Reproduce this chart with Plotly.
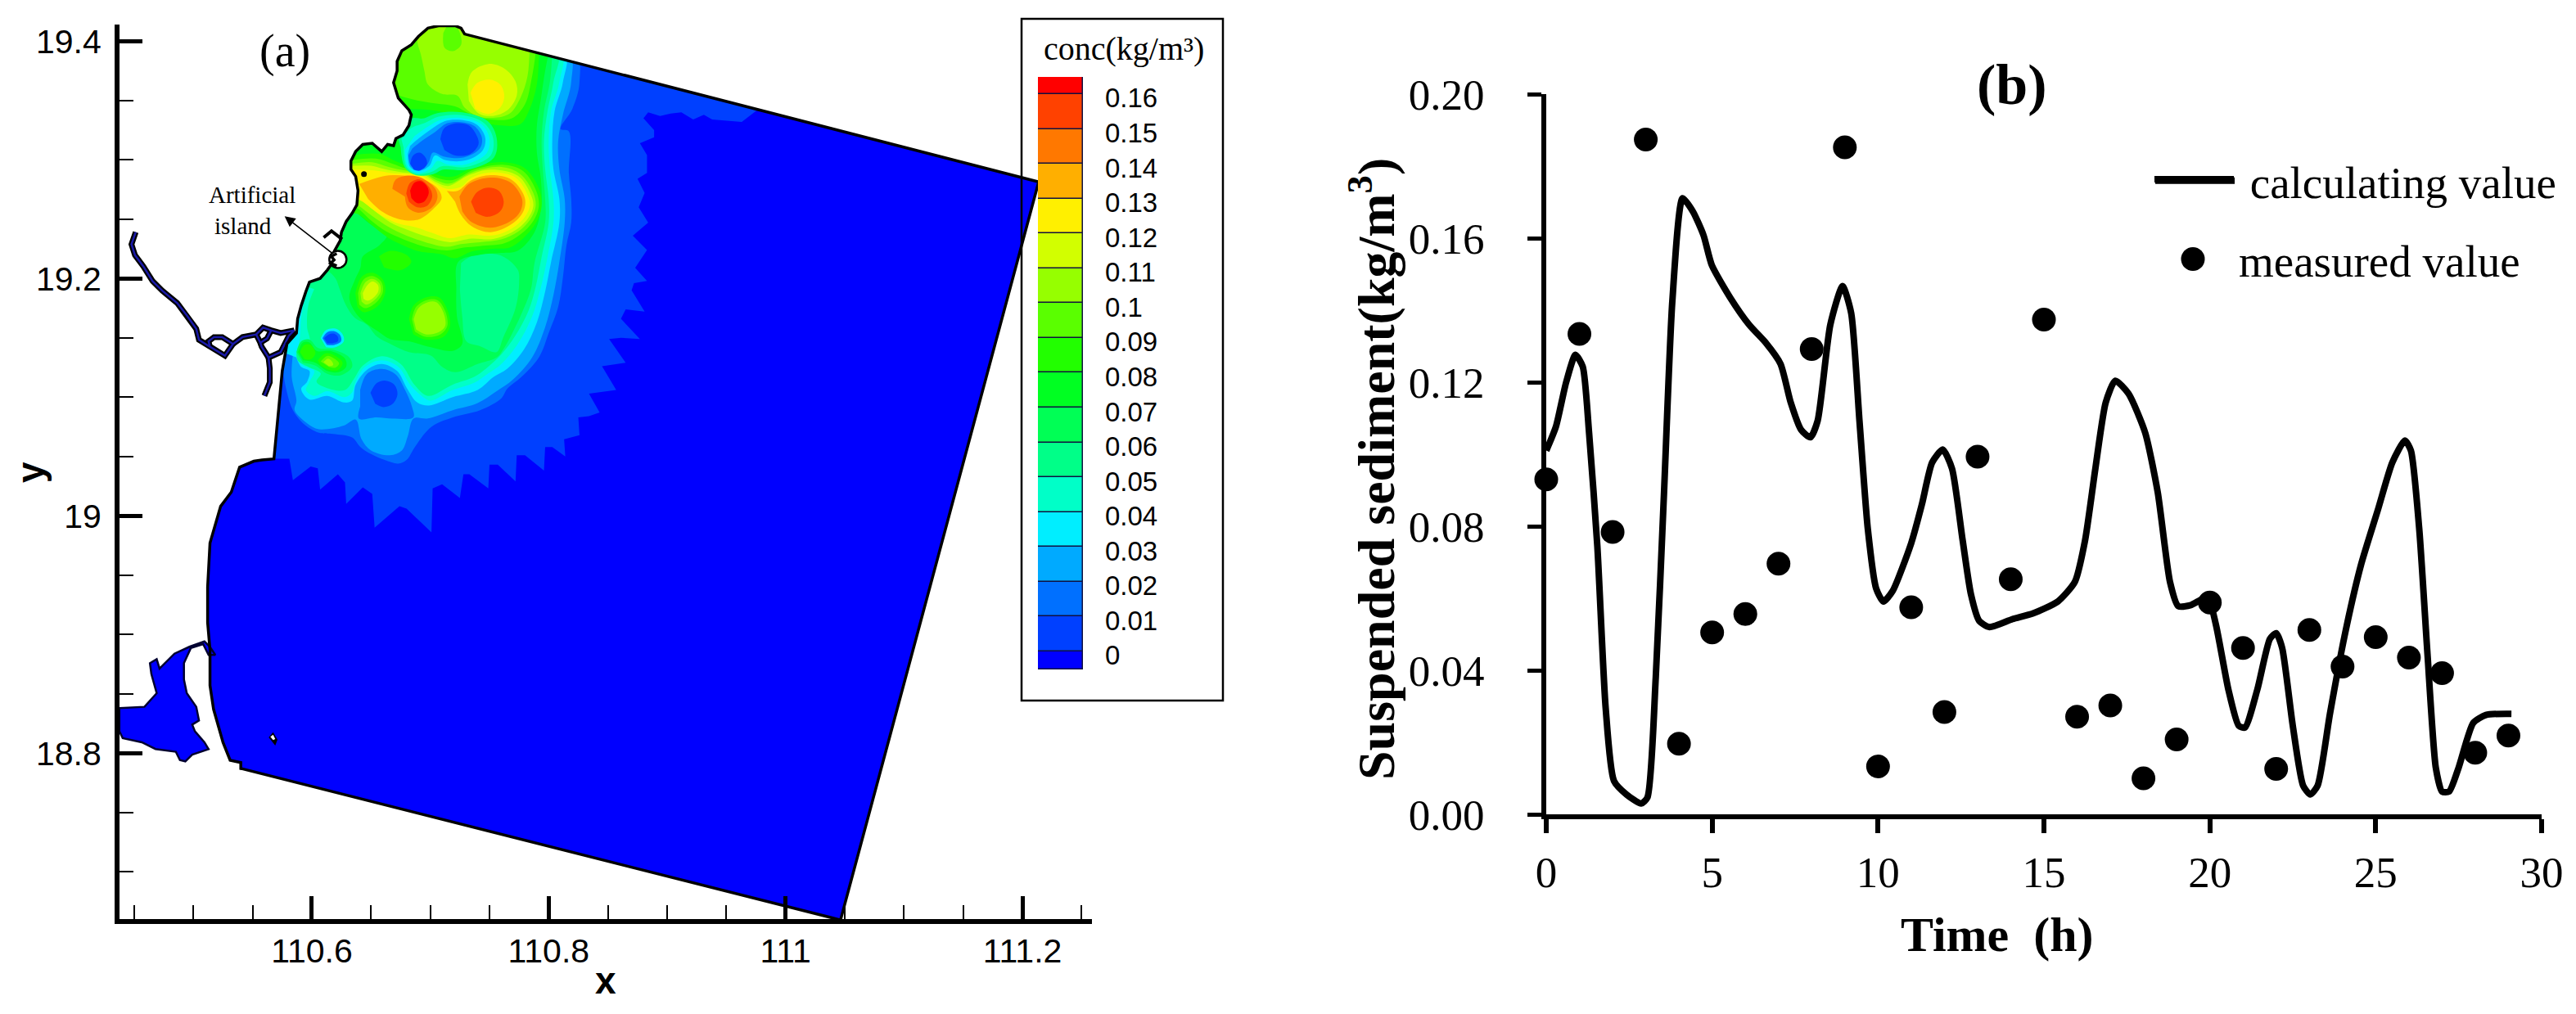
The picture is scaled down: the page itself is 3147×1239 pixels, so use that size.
import plotly.graph_objects as go

W, H = 3147, 1239

# panel (b) values
calc_time = [0, .29, .6, .88, 1.1, 1.29, 1.54, 1.79, 2.04, 2.42, 2.86, 3.05, 3.3, 3.55, 3.8, 4.11, 4.42, 4.74, 4.99,
             5.55, 6.12, 6.62, 7.06, 7.37, 7.68, 7.96, 8.18, 8.56, 8.93, 9.19, 9.44, 9.69, 9.94, 10.16, 10.44, 11.0,
             11.32, 11.63, 11.95, 12.23, 12.55, 12.8, 13.05, 13.36, 14.05, 14.67, 15.42, 15.93, 16.24, 16.55, 16.86,
             17.15, 17.55, 18.05, 18.43, 18.8, 19.05, 19.43, 19.93, 20.18, 20.56, 20.87, 21.06, 21.43, 21.81, 22.0,
             22.18, 22.5, 22.81, 23.03, 23.25, 23.62, 24.06, 24.56, 25.06, 25.5, 25.88, 26.06, 26.31, 26.56, 26.81,
             27.0, 27.21, 27.5, 27.94, 28.32, 29.09]
calc_value = [.101, .1076, .120, .1276, .1243, .106, .0744, .0296, .0093, .0055, .003, .0047, .0379, .0894, .1425,
              .1711, .1674, .1608, .1525, .1434, .1359, .1309, .1251, .1143, .1068, .1047, .1093, .1359, .1467, .1392,
              .1093, .0794, .0628, .0591, .062, .0753, .086, .0977, .1013, .096, .0761, .0611, .0537, .052, .0542,
              .0558, .0591, .0645, .0761, .096, .1143, .1204, .1168, .106, .0894, .0645, .0578, .0581, .0603, .0528,
              .0346, .0246, .0241, .0346, .0487, .0503, .0462, .0246, .008, .0055, .008, .0279, .0495, .0694, .0844,
              .0977, .1038, .101, .0794, .0445, .013, .0063, .0063, .013, .0254, .0276, .0279]
meas_time = list(range(30))
meas_value = [.093, .1334, .0784, .1874, .0196, .0505, .0556, .0696, .1292, .1852, .0133, .0575, .0284, .0993, .0653,
              .1374, .0271, .0302, .01, .0208, .0588, .0462, .0126, .0512, .041, .0492, .0435, .0392, .0171, .0219]

# panel (a) legend
conc_levels = [0, .01, .02, .03, .04, .05, .06, .07, .08, .09, .1, .11, .12, .13, .14, .15, .16]
conc_labels = ['0', '0.01', '0.02', '0.03', '0.04', '0.05', '0.06', '0.07', '0.08', '0.09', '0.1', '0.11', '0.12',
               '0.13', '0.14', '0.15', '0.16']
band_colors = ['#0000FF', '#0040FF', '#0070FF', '#00AAFF', '#00EEFF', '#00FFC8', '#00FF88', '#00FF55', '#00FF22',
               '#22FF00', '#5AFF00', '#96FF00', '#D2FF00', '#FFF000', '#FFAF00', '#FF7800', '#FF4100', '#FF0000']

# model outline, lon/lat
corner_ne = [111.2137, 19.2814]
corner_se = [111.0464, 18.6593]
corner_sw = [110.5406, 18.7869]
coast = [[110.729, 19.406], [110.726, 19.411], [110.721, 19.413], [110.707, 19.413], [110.698, 19.411],
         [110.690, 19.404], [110.684, 19.397], [110.676, 19.392], [110.672, 19.383], [110.672, 19.375],
         [110.669, 19.365], [110.673, 19.352], [110.682, 19.342], [110.684, 19.338], [110.682, 19.329],
         [110.677, 19.321], [110.671, 19.318], [110.669, 19.312], [110.664, 19.313], [110.659, 19.307],
         [110.654, 19.311], [110.651, 19.314], [110.643, 19.313], [110.637, 19.307], [110.633, 19.299],
         [110.633, 19.292], [110.637, 19.286], [110.639, 19.274], [110.638, 19.262], [110.634, 19.255],
         [110.629, 19.248], [110.625, 19.239], [110.624, 19.232], [110.619, 19.223], [110.618, 19.214],
         [110.613, 19.207], [110.607, 19.200], [110.598, 19.197], [110.595, 19.189], [110.591, 19.177],
         [110.588, 19.166], [110.587, 19.154], [110.579, 19.145], [110.575, 19.122], [110.572, 19.090],
         [110.5695, 19.064], [110.568, 19.048], [110.558, 19.047], [110.551, 19.046], [110.539, 19.041],
         [110.535, 19.030], [110.532, 19.020], [110.523, 19.008], [110.519, 18.995], [110.514, 18.977],
         [110.512, 18.940], [110.512, 18.910], [110.514, 18.887], [110.514, 18.857], [110.517, 18.837],
         [110.525, 18.809], [110.531, 18.794], [110.540, 18.792], [110.540, 18.787]]
bay = [[110.4375, 18.8378], [110.4587, 18.839], [110.469, 18.8505], [110.4645, 18.8666], [110.4633, 18.8758],
       [110.469, 18.8792], [110.4714, 18.8712], [110.484, 18.8838], [110.4967, 18.8896], [110.5093, 18.8942],
       [110.5139, 18.8896], [110.5185, 18.8827], [110.5128, 18.8827], [110.5082, 18.8919], [110.4978, 18.8885],
       [110.492, 18.8758], [110.492, 18.862], [110.4944, 18.8505], [110.5024, 18.839], [110.5047, 18.8275],
       [110.499, 18.824], [110.5013, 18.8183], [110.5093, 18.8091], [110.5128, 18.8033], [110.499, 18.7987],
       [110.4932, 18.793], [110.4886, 18.7941], [110.4852, 18.8011], [110.468, 18.8034], [110.4564, 18.8091],
       [110.4403, 18.8126], [110.4375, 18.8183]]
river = [[110.4513, 19.2391], [110.4477, 19.2288], [110.4507, 19.2196], [110.4576, 19.2104], [110.4656, 19.1977],
         [110.4737, 19.1897], [110.4863, 19.1793], [110.4944, 19.169], [110.5024, 19.1575], [110.5047, 19.1483],
         [110.5139, 19.1425], [110.5266, 19.1349], [110.5335, 19.1448], [110.5243, 19.1506], [110.5174, 19.1506],
         [110.5128, 19.1471], [110.5139, 19.1425], [None, None],
         [110.5335, 19.1448], [110.5415, 19.1506], [110.553, 19.1528], [110.5588, 19.1586], [110.5657, 19.1563],
         [110.5737, 19.154], [110.5852, 19.1563], [None, None],
         [110.553, 19.1528], [110.5565, 19.1459], [110.5622, 19.1494], [110.5657, 19.1563], [None, None],
         [110.5565, 19.1459], [110.5576, 19.1425], [110.5634, 19.1333], [110.5737, 19.1379], [110.5806, 19.1517],
         [110.5852, 19.1563], [None, None],
         [110.5634, 19.1333], [110.5645, 19.1241], [110.5645, 19.1126], [110.5599, 19.1011]]
hook = [[110.61, 19.2345], [110.6166, 19.24], [110.6256, 19.233]]
island_mark = [[110.621, 19.221], [110.6165, 19.2186], [110.6188, 19.2156], [110.6158, 19.2128], [110.621, 19.2106]]
islet_rim = [[110.5636, 18.8132], [110.5673, 18.8176], [110.571, 18.8114], [110.5691, 18.8063]]
islet_core = [[110.565, 18.8137], [110.5673, 18.8155], [110.5691, 18.8119], [110.5673, 18.811]]
artificial_island = [110.622, 19.216]
rock = [110.644, 19.288]
arrow_head = [110.577, 19.2524]
arrow_tail = [110.618, 19.2207]

# isolines of the concentration field, lon/lat
iso_00 = [[110.5695, 19.048], [110.581, 19.048], [110.584, 19.030], [110.599, 19.0415], [110.605, 19.040],
          [110.607, 19.022], [110.622, 19.035], [110.628, 19.028], [110.629, 19.010], [110.643, 19.024],
          [110.651, 19.0185], [110.653, 18.990], [110.674, 19.008], [110.680, 19.006], [110.701, 18.986],
          [110.702, 19.023], [110.710, 19.0265], [110.725, 19.015], [110.728, 19.035], [110.733, 19.035],
          [110.749, 19.023], [110.750, 19.043], [110.757, 19.043], [110.772, 19.029], [110.773, 19.051],
          [110.780, 19.051], [110.796, 19.038], [110.797, 19.058], [110.803, 19.058], [110.814, 19.050],
          [110.813, 19.0645], [110.826, 19.068], [110.825, 19.083], [110.834, 19.084], [110.843, 19.087],
          [110.834, 19.103], [110.857, 19.106], [110.845, 19.126], [110.865, 19.129], [110.851, 19.149],
          [110.861, 19.150], [110.877, 19.149], [110.861, 19.166], [110.865, 19.174], [110.881, 19.172],
          [110.870, 19.190], [110.872, 19.196], [110.883, 19.198], [110.873, 19.209], [110.883, 19.224],
          [110.871, 19.236], [110.884, 19.247], [110.876, 19.260], [110.881, 19.272], [110.875, 19.284],
          [110.883, 19.289], [110.883, 19.304], [110.877, 19.314], [110.889, 19.319], [110.889, 19.325],
          [110.880, 19.335], [110.884, 19.340], [110.894, 19.337], [110.903, 19.339], [110.912, 19.340],
          [110.922, 19.334], [110.931, 19.338], [110.938, 19.334], [110.963, 19.332], [110.976, 19.342],
          [110.976, 19.35], [110.72, 19.42], [110.60, 19.42], [110.55, 19.25], [110.56, 19.05]]
iso_01 = [[110.5775, 19.145], [110.576, 19.122], [110.579, 19.104], [110.584, 19.089], [110.5925, 19.078],
          [110.606, 19.070], [110.618, 19.069], [110.634, 19.066], [110.641, 19.058], [110.650, 19.052],
          [110.6615, 19.047], [110.673, 19.044], [110.680, 19.047], [110.687, 19.058], [110.701, 19.075],
          [110.719, 19.083], [110.742, 19.089], [110.760, 19.099], [110.765, 19.107], [110.777, 19.117],
          [110.792, 19.134], [110.800, 19.154], [110.808, 19.176], [110.812, 19.201], [110.815, 19.228],
          [110.819, 19.247], [110.819, 19.267], [110.817, 19.289], [110.817, 19.324], [110.810, 19.326],
          [110.820, 19.343], [110.826, 19.3655], [110.821, 19.395], [110.70, 19.42], [110.60, 19.42],
          [110.56, 19.25], [110.56, 19.145]]
iso_02 = [[110.584, 19.136], [110.583, 19.117], [110.587, 19.097], [110.5855, 19.089], [110.596, 19.078],
          [110.606, 19.073], [110.627, 19.076], [110.637, 19.081], [110.642, 19.0645], [110.650, 19.055],
          [110.666, 19.051], [110.676, 19.055], [110.681, 19.067], [110.686, 19.082], [110.698, 19.082],
          [110.719, 19.089], [110.740, 19.095], [110.756, 19.105], [110.770, 19.115], [110.786, 19.1335],
          [110.797, 19.159], [110.804, 19.186], [110.809, 19.214], [110.8135, 19.247], [110.8135, 19.267],
          [110.809, 19.292], [110.808, 19.316], [110.812, 19.338], [110.819, 19.3655], [110.816, 19.395],
          [110.70, 19.42], [110.60, 19.42], [110.56, 19.25], [110.56, 19.14]]
iso_03 = [[110.587, 19.1335], [110.591, 19.1255], [110.598, 19.122], [110.596, 19.113], [110.591, 19.107],
          [110.598, 19.098], [110.613, 19.101], [110.627, 19.0955], [110.634, 19.097], [110.637, 19.1105],
          [110.6465, 19.123], [110.659, 19.128], [110.672, 19.122], [110.680, 19.108], [110.689, 19.0955],
          [110.699, 19.093], [110.719, 19.100], [110.740, 19.106], [110.7535, 19.117], [110.765, 19.124],
          [110.779, 19.140], [110.790, 19.163], [110.797, 19.189], [110.802, 19.214], [110.809, 19.247],
          [110.809, 19.267], [110.804, 19.292], [110.803, 19.316], [110.805, 19.341], [110.812, 19.3655],
          [110.813, 19.395], [110.70, 19.42], [110.60, 19.42], [110.57, 19.25], [110.57, 19.14]]
iso_04 = [[110.594, 19.184], [110.591, 19.168], [110.590, 19.152], [110.589, 19.145], [110.587, 19.136],
          [110.5925, 19.127], [110.602, 19.122], [110.598, 19.113], [110.595, 19.106], [110.602, 19.101],
          [110.613, 19.105], [110.628, 19.100], [110.634, 19.104], [110.637, 19.113], [110.645, 19.1255],
          [110.659, 19.131], [110.673, 19.1255], [110.683, 19.1105], [110.694, 19.100], [110.7005, 19.097],
          [110.719, 19.106], [110.737, 19.112], [110.749, 19.120], [110.760, 19.128], [110.774, 19.145],
          [110.786, 19.168], [110.793, 19.191], [110.799, 19.218], [110.804, 19.247], [110.804, 19.267],
          [110.801, 19.292], [110.800, 19.316], [110.802, 19.341], [110.809, 19.3655], [110.81, 19.395],
          [110.70, 19.42], [110.62, 19.42], [110.59, 19.25], [110.585, 19.19]]
iso_05 = [[110.602, 19.191], [110.597, 19.177], [110.596, 19.159], [110.598, 19.147], [110.588, 19.140],
          [110.588, 19.131], [110.597, 19.1255], [110.6075, 19.120], [110.604, 19.113], [110.612, 19.108],
          [110.628, 19.106], [110.636, 19.116], [110.643, 19.1265], [110.659, 19.1345], [110.675, 19.128],
          [110.687, 19.110], [110.698, 19.101], [110.719, 19.1105], [110.737, 19.117], [110.747, 19.124],
          [110.760, 19.136], [110.772, 19.152], [110.783, 19.173], [110.789, 19.193], [110.794, 19.218],
          [110.800, 19.247], [110.800, 19.267], [110.797, 19.292], [110.796, 19.316], [110.799, 19.341],
          [110.804, 19.3655], [110.807, 19.395], [110.70, 19.42], [110.62, 19.42], [110.60, 19.25],
          [110.59, 19.195]]
iso_06 = [[110.803, 19.39], [110.801, 19.3655], [110.796, 19.341], [110.794, 19.316], [110.795, 19.292],
          [110.797, 19.267], [110.797, 19.247], [110.788, 19.213], [110.785, 19.191], [110.776, 19.168],
          [110.7615, 19.140], [110.756, 19.1335], [110.740, 19.128], [110.721, 19.121], [110.710, 19.1255],
          [110.7005, 19.135], [110.682, 19.138], [110.668, 19.144], [110.655, 19.151], [110.6465, 19.161],
          [110.636, 19.167], [110.629, 19.177], [110.6235, 19.191], [110.620, 19.200], [110.613, 19.207],
          [110.604, 19.214], [110.60, 19.25], [110.60, 19.42], [110.80, 19.42]]
iso_06_south = [[110.587, 19.138], [110.591, 19.147], [110.598, 19.1485], [110.605, 19.1416], [110.618, 19.140],
                [110.6316, 19.1335], [110.634, 19.1255], [110.6247, 19.1185], [110.613, 19.1197], [110.603, 19.1266],
                [110.5925, 19.129]]
lobe_05 = [[110.726, 19.213], [110.733, 19.218], [110.749, 19.221], [110.7625, 19.218], [110.774, 19.207],
           [110.775, 19.196], [110.772, 19.175], [110.7615, 19.150], [110.756, 19.138], [110.742, 19.143],
           [110.7305, 19.147], [110.727, 19.168], [110.725, 19.191]]
iso_07 = [[110.800, 19.390], [110.797, 19.375], [110.7935, 19.352], [110.790, 19.329], [110.790, 19.306],
          [110.7935, 19.283], [110.7935, 19.260], [110.788, 19.239], [110.774, 19.2235], [110.760, 19.2215],
          [110.742, 19.220], [110.7236, 19.214], [110.722, 19.191], [110.7225, 19.168], [110.727, 19.145],
          [110.719, 19.139], [110.7005, 19.142], [110.682, 19.147], [110.666, 19.149], [110.655, 19.156],
          [110.643, 19.1645], [110.636, 19.1726], [110.6316, 19.184], [110.636, 19.198], [110.641, 19.209],
          [110.643, 19.2186], [110.657, 19.228], [110.6636, 19.237], [110.652, 19.244], [110.6406, 19.253],
          [110.634, 19.260], [110.62, 19.27], [110.62, 19.42], [110.80, 19.42]]
iso_07_south = [[110.5884, 19.138], [110.5925, 19.146], [110.598, 19.146], [110.604, 19.139], [110.6167, 19.1386],
                [110.628, 19.1324], [110.629, 19.1255], [110.6224, 19.121], [110.613, 19.122], [110.603, 19.129],
                [110.5925, 19.131]]
iso_08_north = [[110.682, 19.343], [110.700, 19.342], [110.721, 19.338], [110.7395, 19.3325], [110.760, 19.329],
                [110.776, 19.330], [110.784, 19.343], [110.790, 19.3635], [110.792, 19.389], [110.795, 19.42],
                [110.64, 19.42], [110.64, 19.36]]
iso_09_north = [[110.674, 19.354], [110.689, 19.350], [110.705, 19.3474], [110.721, 19.345], [110.733, 19.339],
                [110.751, 19.334], [110.769, 19.335], [110.780, 19.347], [110.7855, 19.368], [110.789, 19.391],
                [110.79, 19.42], [110.64, 19.42], [110.64, 19.36]]
iso_10_north = [[110.69, 19.42], [110.689, 19.400], [110.692, 19.389], [110.695, 19.375], [110.698, 19.3635],
                [110.710, 19.3555], [110.723, 19.354], [110.729, 19.344], [110.7395, 19.337], [110.753, 19.3354],
                [110.767, 19.339], [110.776, 19.352], [110.782, 19.370], [110.784, 19.393], [110.786, 19.42]]
patch_09_north = [[110.711, 19.407], [110.712, 19.3945], [110.719, 19.3916], [110.726, 19.397], [110.725, 19.407],
                  [110.721, 19.413], [110.714, 19.413]]
iso_11_north = [[110.7315, 19.3635], [110.735, 19.374], [110.749, 19.3808], [110.7625, 19.377], [110.772, 19.366],
                [110.773, 19.354], [110.765, 19.3417], [110.753, 19.337], [110.741, 19.339], [110.7326, 19.3497]]
iso_12_north = [[110.734, 19.3566], [110.7395, 19.3647], [110.750, 19.3676], [110.759, 19.3635], [110.7625, 19.354],
                [110.759, 19.344], [110.7487, 19.3387], [110.738, 19.343]]
iso_08_mid = [[110.634, 19.3037], [110.657, 19.305], [110.6705, 19.299], [110.682, 19.2945], [110.6935, 19.2927],
              [110.705, 19.2876], [110.719, 19.2858], [110.737, 19.294], [110.7625, 19.298], [110.7798, 19.293],
              [110.7917, 19.276], [110.794, 19.261], [110.7896, 19.2474], [110.7786, 19.234], [110.767, 19.226],
              [110.753, 19.225], [110.735, 19.2227], [110.721, 19.217], [110.7096, 19.2204], [110.691, 19.2227],
              [110.6786, 19.2273], [110.6648, 19.234], [110.651, 19.2446], [110.6395, 19.254], [110.629, 19.257],
              [110.629, 19.3037]]
iso_09_mid = [[110.635, 19.300], [110.654, 19.301], [110.668, 19.2968], [110.6797, 19.2927], [110.6935, 19.291],
              [110.705, 19.285], [110.719, 19.283], [110.737, 19.2917], [110.7625, 19.2957], [110.7786, 19.2904],
              [110.7894, 19.274], [110.7917, 19.261], [110.787, 19.2485], [110.776, 19.237], [110.7625, 19.2296],
              [110.742, 19.2273], [110.728, 19.226], [110.714, 19.2237], [110.6935, 19.2273], [110.6774, 19.233],
              [110.6625, 19.2398], [110.6498, 19.249], [110.638, 19.2593], [110.629, 19.261], [110.629, 19.300]]
iso_10_mid = [[110.636, 19.297], [110.651, 19.298], [110.6648, 19.294], [110.6786, 19.291], [110.6935, 19.2894],
              [110.706, 19.2825], [110.7165, 19.280], [110.735, 19.2894], [110.760, 19.294], [110.776, 19.288],
              [110.787, 19.272], [110.789, 19.261], [110.7844, 19.2497], [110.774, 19.2393], [110.760, 19.233],
              [110.742, 19.2306], [110.7257, 19.229], [110.714, 19.2267], [110.6958, 19.2306], [110.68, 19.236],
              [110.6648, 19.2434], [110.651, 19.2526], [110.638, 19.262], [110.629, 19.2646], [110.629, 19.297]]
iso_11_mid = [[110.637, 19.295], [110.650, 19.295], [110.661, 19.2922], [110.677, 19.2894], [110.6935, 19.288],
              [110.706, 19.2807], [110.7154, 19.278], [110.7326, 19.287], [110.751, 19.2917], [110.774, 19.2865],
              [110.785, 19.2703], [110.787, 19.261], [110.7827, 19.2508], [110.774, 19.242], [110.7625, 19.236],
              [110.751, 19.233], [110.735, 19.2336], [110.7165, 19.2306], [110.698, 19.235], [110.682, 19.2405],
              [110.666, 19.2474], [110.652, 19.2577], [110.639, 19.268], [110.629, 19.270], [110.629, 19.295]]
iso_12_mid = [[110.638, 19.2917], [110.653, 19.291], [110.667, 19.2888], [110.6797, 19.288], [110.692, 19.2867],
              [110.707, 19.2784], [110.714, 19.2756], [110.7257, 19.277], [110.735, 19.285], [110.751, 19.2894],
              [110.772, 19.285], [110.7827, 19.269], [110.784, 19.261], [110.780, 19.252], [110.7717, 19.244],
              [110.760, 19.238], [110.7487, 19.236], [110.7326, 19.237], [110.7165, 19.234], [110.700, 19.239],
              [110.6866, 19.2434], [110.674, 19.246], [110.659, 19.253], [110.643, 19.2646], [110.629, 19.274],
              [110.629, 19.2917]]
iso_13_left = [[110.640, 19.2796], [110.657, 19.2853], [110.668, 19.287], [110.689, 19.285], [110.705, 19.277],
               [110.7096, 19.268], [110.704, 19.260], [110.690, 19.2497], [110.675, 19.2497], [110.659, 19.2566],
               [110.6475, 19.267]]
iso_13_right = [[110.714, 19.2738], [110.723, 19.2738], [110.735, 19.283], [110.751, 19.287], [110.769, 19.283],
                [110.7798, 19.268], [110.7786, 19.2566], [110.769, 19.246], [110.751, 19.239], [110.735, 19.244],
                [110.7257, 19.254], [110.721, 19.2646]]
iso_14_left = [[110.668, 19.2756], [110.6705, 19.283], [110.6797, 19.2865], [110.692, 19.285], [110.704, 19.276],
               [110.706, 19.268], [110.7016, 19.260], [110.690, 19.2554], [110.681, 19.260], [110.6786, 19.269]]
iso_14_right = [[110.7246, 19.269], [110.7326, 19.2796], [110.751, 19.285], [110.768, 19.2807], [110.7775, 19.267],
                [110.776, 19.2566], [110.768, 19.2485], [110.751, 19.2428], [110.735, 19.2474], [110.727, 19.2566]]
iso_15_left = [[110.6797, 19.2715], [110.683, 19.2807], [110.691, 19.2835], [110.699, 19.277], [110.7016, 19.269],
               [110.697, 19.261], [110.689, 19.260], [110.682, 19.2646]]
iso_15_right = [[110.7344, 19.2646], [110.7395, 19.2727], [110.7487, 19.2766], [110.758, 19.2738], [110.762, 19.2646],
                [110.759, 19.2566], [110.7487, 19.252], [110.7384, 19.2554]]
iso_16 = [[110.683, 19.274], [110.6866, 19.2807], [110.692, 19.282], [110.6976, 19.277], [110.6986, 19.2715],
          [110.6947, 19.2646], [110.689, 19.2635], [110.684, 19.268]]
# small highs south of the peaks
iso_08_a = [[110.6367, 19.1876], [110.642, 19.2014], [110.651, 19.2048], [110.660, 19.199], [110.662, 19.1887],
            [110.656, 19.177], [110.644, 19.1715], [110.6385, 19.176]]
iso_09_a = [[110.639, 19.1876], [110.6436, 19.199], [110.651, 19.202], [110.6585, 19.1974], [110.660, 19.1887],
            [110.654, 19.1795], [110.645, 19.175], [110.640, 19.178]]
iso_10_a = [[110.641, 19.1876], [110.6454, 19.197], [110.651, 19.1997], [110.657, 19.196], [110.658, 19.1887],
            [110.652, 19.181], [110.646, 19.178], [110.642, 19.1806]]
iso_11_a = [[110.643, 19.1876], [110.647, 19.1945], [110.651, 19.1974], [110.6558, 19.1945], [110.656, 19.189],
            [110.651, 19.183], [110.6466, 19.1813], [110.6436, 19.183]]
iso_08_b = [[110.682, 19.1657], [110.6857, 19.177], [110.696, 19.184], [110.7075, 19.184], [110.7144, 19.1737],
            [110.7167, 19.160], [110.711, 19.1507], [110.696, 19.1485], [110.6857, 19.153]]
iso_09_b = [[110.6845, 19.1657], [110.688, 19.176], [110.697, 19.1818], [110.706, 19.1818], [110.7126, 19.1726],
            [110.7144, 19.160], [110.7087, 19.153], [110.696, 19.1508], [110.687, 19.1554]]
iso_10_b = [[110.686, 19.1657], [110.690, 19.175], [110.698, 19.180], [110.705, 19.180], [110.711, 19.1715],
            [110.7126, 19.160], [110.707, 19.1547], [110.696, 19.153], [110.688, 19.157]]
iso_08_c = [[110.590, 19.138], [110.5937, 19.144], [110.599, 19.144], [110.603, 19.137], [110.5994, 19.132],
            [110.5937, 19.132]]
iso_08_d = [[110.605, 19.131], [110.612, 19.137], [110.620, 19.1347], [110.626, 19.129], [110.6224, 19.123],
            [110.6144, 19.123], [110.6075, 19.1266]]
iso_09_d = [[110.6075, 19.130], [110.613, 19.1347], [110.619, 19.1324], [110.623, 19.1284], [110.620, 19.1248],
            [110.6144, 19.1255]]
iso_10_d = [[110.6098, 19.1294], [110.6137, 19.1324], [110.617, 19.130], [110.618, 19.127], [110.6144, 19.126]]
patch_09_e = [[110.6567, 19.2186], [110.666, 19.2232], [110.6797, 19.220], [110.684, 19.214], [110.675, 19.207],
              [110.661, 19.2094]]
# lows, outer ring first
low_06 = [[110.675, 19.3106], [110.6786, 19.2934], [110.6878, 19.287], [110.7027, 19.288], [110.7108, 19.2917],
          [110.7315, 19.2917], [110.7538, 19.302], [110.756, 19.3187], [110.7487, 19.3325], [110.727, 19.340],
          [110.706, 19.3394], [110.6935, 19.3348], [110.684, 19.3348], [110.673, 19.3175]]
low_05 = [[110.6774, 19.3106], [110.6797, 19.2945], [110.6878, 19.288], [110.7016, 19.290], [110.7096, 19.2945],
          [110.7303, 19.294], [110.751, 19.3037], [110.753, 19.3187], [110.745, 19.3313], [110.7257, 19.3377],
          [110.707, 19.3364], [110.6958, 19.3313], [110.684, 19.3267], [110.6756, 19.3175]]
low_04 = [[110.6786, 19.3083], [110.681, 19.2945], [110.689, 19.2888], [110.7, 19.2922], [110.706, 19.299],
          [110.714, 19.2963], [110.7303, 19.2963], [110.7476, 19.3055], [110.7498, 19.3187], [110.743, 19.3302],
          [110.7257, 19.3354], [110.7096, 19.334], [110.698, 19.3279], [110.6866, 19.3198]]
low_03 = [[110.681, 19.3049], [110.683, 19.294], [110.690, 19.2906], [110.6993, 19.295], [110.7039, 19.3037],
          [110.713, 19.2996], [110.7303, 19.2996], [110.7441, 19.3078], [110.7464, 19.3187], [110.7395, 19.3295],
          [110.7257, 19.3336], [110.7119, 19.3325], [110.7004, 19.3256], [110.691, 19.3187], [110.683, 19.3118]]
low_02 = [[110.6815, 19.3037], [110.684, 19.2945], [110.690, 19.2922], [110.698, 19.2968], [110.7022, 19.306],
          [110.712, 19.3026], [110.728, 19.3019], [110.7418, 19.3095], [110.7436, 19.3187], [110.7372, 19.3285],
          [110.7257, 19.3318], [110.7142, 19.3308], [110.7039, 19.3233], [110.6935, 19.3164], [110.6848, 19.3095]]
low_01 = [[110.7085, 19.3175], [110.7119, 19.3267], [110.7223, 19.3308], [110.7326, 19.329], [110.7395, 19.3198],
          [110.7407, 19.3129], [110.7338, 19.3049], [110.7211, 19.3037], [110.7119, 19.3083]]
low_01_tail = [[110.683, 19.2968], [110.6855, 19.3037], [110.691, 19.306], [110.6963, 19.3014], [110.697, 19.2957],
               [110.691, 19.291], [110.6861, 19.2917]]
low_e_04 = [[110.6075, 19.1496], [110.612, 19.1565], [110.620, 19.1577], [110.6259, 19.153], [110.627, 19.147],
            [110.620, 19.142], [110.612, 19.142]]
low_e_02 = [[110.609, 19.1496], [110.613, 19.1547], [110.6196, 19.1554], [110.624, 19.152], [110.6247, 19.147],
            [110.619, 19.144], [110.6127, 19.144]]
low_e_01 = [[110.6104, 19.1496], [110.6144, 19.153], [110.619, 19.1535], [110.622, 19.1508], [110.622, 19.147],
            [110.618, 19.1455], [110.613, 19.1455]]
low_f_02 = [[110.6408, 19.106], [110.6466, 19.1197], [110.6592, 19.1238], [110.6707, 19.1192], [110.6788, 19.1059],
            [110.6845, 19.0921], [110.6857, 19.0829], [110.6684, 19.0818], [110.6546, 19.0829], [110.6397, 19.0818],
            [110.6408, 19.0921]]
low_f_01 = [[110.6495, 19.1036], [110.6546, 19.1117], [110.6615, 19.114], [110.6696, 19.1105], [110.6723, 19.1025],
            [110.6684, 19.0944], [110.6604, 19.0916], [110.6535, 19.0944]]

# painting order: (isoline, colour band)
regions = [(iso_01, 2), (iso_02, 3), (iso_03, 4), (iso_04, 5), (iso_05, 6), (iso_06, 7), (iso_06_south, 7),
           (lobe_05, 6), (iso_07, 8), (iso_07_south, 8), (patch_09_e, 9),
           (iso_08_north, 9), (iso_09_north, 10), (iso_10_north, 11), (patch_09_north, 10), (iso_11_north, 12),
           (iso_12_north, 13), (iso_08_mid, 9), (iso_09_mid, 10), (iso_10_mid, 11), (iso_11_mid, 12), (iso_12_mid, 13),
           (iso_13_left, 14), (iso_13_right, 14), (iso_14_left, 15), (iso_14_right, 15), (iso_15_left, 16),
           (iso_15_right, 16), (iso_16, 17),
           (iso_08_a, 9), (iso_09_a, 10), (iso_10_a, 11), (iso_11_a, 12), (iso_08_b, 9), (iso_09_b, 10),
           (iso_10_b, 11), (iso_08_c, 9), (iso_08_d, 9), (iso_09_d, 10), (iso_10_d, 11),
           (low_06, 6), (low_05, 5), (low_04, 4), (low_03, 3), (low_02, 2), (low_01, 1), (low_01_tail, 1),
           (low_e_04, 4), (low_e_02, 2), (low_e_01, 1), (low_f_02, 2), (low_f_01, 1)]


def lon(points):
    return [p[0] for p in points]


def lat(points):
    return [p[1] for p in points]


def fx(x_px):
    return x_px / W


def fy(y_px):
    return 1 - y_px / H


def add_poly(fig, points, color, shape='linear'):
    fig.add_trace(go.Scatter(x=lon(points), y=lat(points), mode='lines', fill='toself', fillcolor=color,
                             line=dict(width=0, shape=shape, color=color), hoverinfo='skip', showlegend=False))


def add_line(fig, points, color, width):
    fig.add_trace(go.Scatter(x=lon(points), y=lat(points), mode='lines', line=dict(color=color, width=width),
                             hoverinfo='skip', showlegend=False))


fig = go.Figure()

domain_edge = [corner_ne] + coast + [corner_sw, corner_se, corner_ne]
add_poly(fig, domain_edge, band_colors[0])
add_poly(fig, iso_00, band_colors[1])
for points, band in regions:
    add_poly(fig, points, band_colors[band], 'spline')

# land north-west of the coast stays white
land = [p for p in coast if p[1] >= 18.995]
land = [corner_ne] + land + [[110.43, 18.995], [110.43, 19.42], [111.2137, 19.42]]
add_poly(fig, land, 'white')

add_poly(fig, bay, band_colors[0])
add_line(fig, bay + bay[:1], '#000030', 2.5)
add_line(fig, river, 'black', 7)
add_line(fig, river, '#1a1aa8', 2.5)
add_line(fig, domain_edge, 'black', 3.5)
add_line(fig, hook, 'black', 4)
add_poly(fig, islet_rim, 'black')
add_poly(fig, islet_core, 'white')
fig.add_trace(go.Scatter(x=[artificial_island[0]], y=[artificial_island[1]], mode='markers', hoverinfo='skip',
                         marker=dict(size=21, color='white', line=dict(color='black', width=2.5)), showlegend=False))
add_line(fig, island_mark, 'black', 3.5)
fig.add_trace(go.Scatter(x=[rock[0]], y=[rock[1]], mode='markers', marker=dict(size=7, color='black'),
                         hoverinfo='skip', showlegend=False))

# panel (b)
fig.add_trace(go.Scatter(x=calc_time, y=calc_value, mode='lines', name='\u00a0calculating value', xaxis='x2',
                         yaxis='y2', line=dict(color='black', width=8, shape='spline', smoothing=0.6),
                         legend='legend'))
fig.add_trace(go.Scatter(x=meas_time, y=meas_value, mode='markers', name='measured value', xaxis='x2', yaxis='y2',
                         marker=dict(color='black', size=29), legend='legend2', cliponaxis=False))

# colour legend bar of panel (a)
bar_base = [-0.00517] + conc_levels
bar_height = [0.00517] + [0.01] * 16 + [0.00493]
fig.add_trace(go.Bar(x=[0.5] * 18, y=bar_height, base=bar_base, width=1, xaxis='x3', yaxis='y3', showlegend=False,
                     marker=dict(color=band_colors, line=dict(color='#101040', width=1.5)), hoverinfo='skip'))

sans = 'Liberation Sans'
serif = 'Liberation Serif'
annotations = [
    dict(x=fx(348), y=fy(63), text='(a)', font=dict(family=serif, size=56)),
    dict(x=fx(308), y=fy(238), text='Artificial', font=dict(family=serif, size=29)),
    dict(x=fx(297), y=fy(276), text='island', font=dict(family=serif, size=29)),
    dict(x=fx(740), y=fy(1198), text='<b>x</b>', font=dict(family=sans, size=46)),
    dict(x=fx(37), y=fy(577), text='<b>y</b>', font=dict(family=sans, size=46), textangle=-90),
    dict(x=fx(1373), y=fy(59), text='conc(kg/m³)', font=dict(family=serif, size=40)),
    dict(x=fx(2458), y=fy(104), text='<b>(b)</b>', font=dict(family=serif, size=70)),
    dict(x=fx(2440), y=fy(1142), text='<b>Time  (h)</b>', font=dict(family=serif, size=60)),
    dict(x=fx(1677), y=fy(573), text='<b>Suspended sediment(kg/m<sup>3</sup>)</b>', font=dict(family=serif, size=64),
         textangle=-90),
]
for a in annotations:
    a.update(xref='paper', yref='paper', showarrow=False, xanchor='center', yanchor='middle')
for level, label in zip(conc_levels, conc_labels):
    annotations.append(dict(x=fx(1348), xref='paper', y=level, yref='y3', yshift=-5, text=label, showarrow=False,
                            xanchor='left', yanchor='middle', font=dict(family=sans, size=33)))
annotations.append(dict(x=arrow_head[0], y=arrow_head[1], ax=arrow_tail[0], ay=arrow_tail[1], xref='x', yref='y',
                        axref='x', ayref='y', text='', showarrow=True, arrowhead=2, arrowsize=1.6, arrowwidth=1.6,
                        arrowcolor='black'))

fig.update_layout(
    width=W, height=H, margin=dict(l=0, r=0, t=0, b=0, autoexpand=False), paper_bgcolor='white', plot_bgcolor='white',
    font=dict(color='black'), bargap=0, annotations=annotations,
    shapes=[dict(type='rect', xref='paper', yref='paper', x0=fx(150), x1=fx(1240), y0=fy(31), y1=fy(20),
                 fillcolor='white', line=dict(width=0), layer='above'),
            dict(type='rect', xref='paper', yref='paper', x0=fx(1248), x1=fx(1494), y0=fy(856), y1=fy(23),
                 line=dict(color='black', width=2.5), layer='above'),
            # legend symbols stop growing at 16 px and 5 px lines, the samples in the picture are bigger
            dict(type='circle', xref='paper', yref='paper', x0=fx(2664.5), x1=fx(2693.5), y0=fy(331), y1=fy(302),
                 fillcolor='black', line=dict(width=0), layer='above'),
            dict(type='line', xref='paper', yref='paper', x0=fx(2632), x1=fx(2729), y0=fy(219), y1=fy(219),
                 line=dict(color='black', width=8), layer='above')],
    xaxis=dict(domain=[fx(146), fx(1334)], range=[110.4376, 111.2587], anchor='y', showgrid=False, zeroline=False,
               automargin=False, showline=True, linewidth=6, linecolor='black', ticks='inside', ticklen=28,
               tickwidth=5, tickcolor='black', tickvals=[110.6, 110.8, 111, 111.2],
               ticktext=['110.6', '110.8', '111', '111.2'], tickfont=dict(family=sans, size=41), ticklabelstandoff=-2,
               minor=dict(ticks='inside', ticklen=17, tickwidth=2, tickcolor='black', dtick=0.05, tick0=110.6)),
    yaxis=dict(domain=[fy(1123), fy(30)], range=[18.6601, 19.414], anchor='x', showgrid=False, zeroline=False,
               automargin=False, showline=True, linewidth=6, linecolor='black', ticks='inside', ticklen=28,
               tickwidth=5, tickcolor='black', tickvals=[18.8, 19, 19.2, 19.4],
               ticktext=['18.8', '19', '19.2', '19.4'], tickfont=dict(family=sans, size=41), ticklabelstandoff=8,
               minor=dict(ticks='inside', ticklen=17, tickwidth=2, tickcolor='black', dtick=0.05, tick0=19)),
    xaxis2=dict(domain=[fx(1889), fx(3105)], range=[0, 30], anchor='y2', showgrid=False, zeroline=False,
                automargin=False, showline=True, linewidth=6, linecolor='black', ticks='outside', ticklen=17,
                tickwidth=6, tickcolor='black', tickvals=[0, 5, 10, 15, 20, 25, 30],
                tickfont=dict(family=serif, size=53), ticklabelstandoff=2),
    yaxis2=dict(domain=[fy(995), fy(115)], range=[0, 0.2], anchor='x2', showgrid=False, zeroline=False,
                automargin=False, showline=True, linewidth=6, linecolor='black', ticks='outside', ticklen=17,
                tickwidth=5, tickcolor='black', tickvals=[0, .04, .08, .12, .16, .2],
                ticktext=['0.00', '0.04', '0.08', '0.12', '0.16', '0.20'], tickfont=dict(family=serif, size=53),
                ticklabelstandoff=42),
    xaxis3=dict(domain=[fx(1268), fx(1323)], range=[0, 1], anchor='y3', visible=False),
    yaxis3=dict(domain=[fy(818), fy(94)], range=[-0.00517, 0.16493], anchor='x3', visible=False),
    legend=dict(x=fx(2628), y=fy(221), xanchor='left', yanchor='middle', itemwidth=97, bgcolor='rgba(0,0,0,0)',
                font=dict(family=serif, size=55)),
    legend2=dict(x=fx(2633), y=fy(317), xanchor='left', yanchor='middle', itemwidth=92, bgcolor='rgba(0,0,0,0)',
                 font=dict(family=serif, size=55)),
)

fig.write_html("out.html", config={'displayModeBar': False}, post_script="document.body.style.margin='0'")
